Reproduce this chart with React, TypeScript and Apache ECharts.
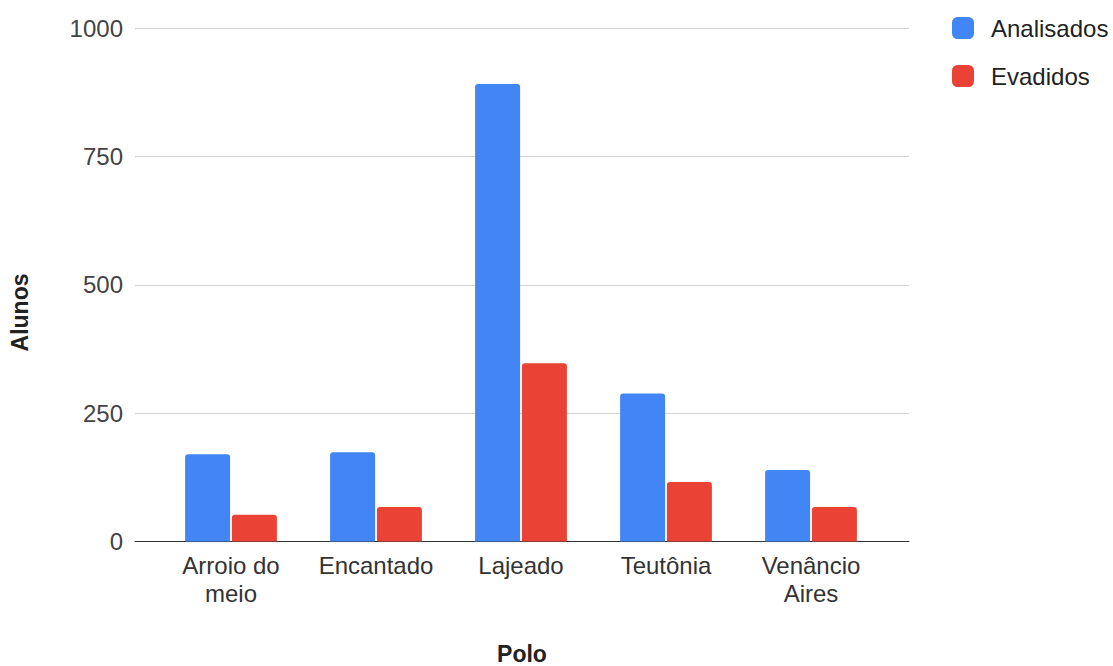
import React, { useEffect, useRef } from "react";
import * as echarts from "echarts";

const categories = ["Arroio do\nmeio", "Encantado", "Lajeado", "Teutônia", "Venâncio\nAires"];
const analisados = [170, 174, 891, 288, 139];
const evadidos = [52, 67, 347, 116, 67];
const yTicks = { min: 0, max: 1000, interval: 250 };

const FONT = "'Liberation Sans', Arial, sans-serif";

export default function App() {
  const ref = useRef<HTMLDivElement>(null);

  useEffect(() => {
    if (!ref.current) return;
    const chart = echarts.init(ref.current, undefined, { renderer: "svg" });
    chart.setOption({
      animation: false,
      backgroundColor: "#ffffff",
      textStyle: { fontFamily: FONT },
      legend: {
        orient: "vertical",
        left: 952,
        top: 16,
        padding: 0,
        itemWidth: 22,
        itemHeight: 22,
        itemGap: 24,
        icon: "roundRect",
        textStyle: { fontSize: 24, color: "#222", fontFamily: FONT, padding: [0, 0, 0, 12] },
        data: ["Analisados", "Evadidos"],
      },
      grid: [
        // wide grid: gridlines and baseline
        { left: 135, right: 204, top: 28, bottom: 124.5 },
        // inner grid: bars and category labels
        { left: 158.5, right: 229.5, top: 28, bottom: 124.5 },
      ],
      xAxis: [
        {
          gridIndex: 0,
          type: "value",
          min: 0,
          max: 1,
          axisLine: { show: true, onZero: false, lineStyle: { color: "#333", width: 1 } },
          axisTick: { show: false },
          axisLabel: { show: false },
          splitLine: { show: false },
        },
        {
          gridIndex: 1,
          type: "category",
          data: categories,
          axisLine: { show: false },
          axisTick: { show: false },
          axisLabel: {
            fontSize: 24,
            lineHeight: 28,
            color: "#333",
            margin: 10,
            fontFamily: FONT,
            interval: 0,
          },
        },
      ],
      yAxis: [
        {
          gridIndex: 0,
          type: "value",
          ...yTicks,
          axisLine: { show: false },
          axisTick: { show: false },
          axisLabel: {
            fontSize: 24,
            color: "#444",
            margin: 12,
            fontFamily: FONT,
            formatter: (v: number) => String(v),
          },
          splitLine: { lineStyle: { color: "#d3d3d3", width: 1 } },
        },
        {
          gridIndex: 1,
          type: "value",
          ...yTicks,
          show: false,
          splitLine: { show: false },
        },
      ],
      series: [
        {
          name: "Analisados",
          type: "bar",
          xAxisIndex: 1,
          yAxisIndex: 1,
          data: analisados,
          barWidth: 45,
          barGap: "4%",
          itemStyle: { color: "#4285F4", borderRadius: [3, 3, 0, 0] },
        },
        {
          name: "Evadidos",
          type: "bar",
          xAxisIndex: 1,
          yAxisIndex: 1,
          data: evadidos,
          barWidth: 45,
          barGap: "4%",
          itemStyle: { color: "#EA4335", borderRadius: [3, 3, 0, 0] },
        },
      ],
      graphic: [
        {
          type: "text",
          x: 20,
          y: 312.5,
          rotation: Math.PI / 2,
          style: {
            text: "Alunos",
            fontSize: 23,
            fontWeight: "bold",
            fill: "#222",
            fontFamily: FONT,
            align: "center",
            verticalAlign: "middle",
          },
        },
        {
          type: "text",
          x: 522,
          y: 654,
          style: {
            text: "Polo",
            fontSize: 23,
            lineHeight: 23,
            fontWeight: "bold",
            fill: "#222",
            fontFamily: FONT,
            align: "center",
            verticalAlign: "middle",
          },
        },
      ],
    });
    return () => chart.dispose();
  }, []);

  return (
    <div
      ref={ref}
      style={{ position: "fixed", left: 0, top: 0, width: 1113, height: 666 }}
    />
  );
}
